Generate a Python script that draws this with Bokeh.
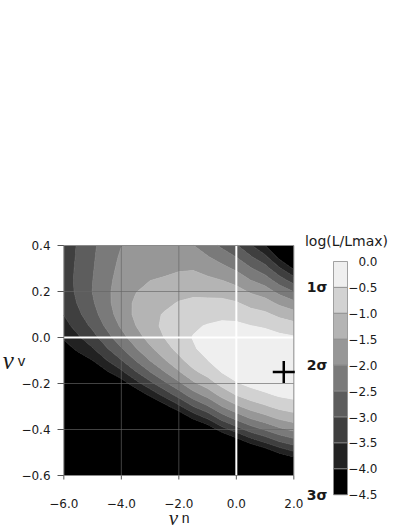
import numpy as np
from bokeh.plotting import figure
from bokeh.models import Range1d
from bokeh.embed import file_html
from bokeh.resources import INLINE
from bokeh.core.properties import value

# ---- data: log(L/Lmax) on a grid ----
nu_n = [-6.0, -5.5, -5.0, -4.5, -4.0, -3.5, -3.0, -2.5, -2.0, -1.5, -1.0, -0.5, 0.0, 0.5, 1.0, 1.5, 2.0]
nu_v = [0.40, 0.35, 0.30, 0.25, 0.20, 0.15, 0.10, 0.05, 0.00, -0.05, -0.10,
        -0.15, -0.20, -0.25, -0.30, -0.35, -0.40, -0.45, -0.50, -0.55, -0.60]
log_l = [
    [-3.30, -2.95, -2.60, -2.25, -2.01, -1.98, -1.97, -1.98, -1.98, -1.99, -2.25, -2.60, -2.95, -3.45, -3.99, -4.90, -5.00],
    [-3.28, -2.93, -2.57, -2.21, -1.94, -1.86, -1.82, -1.80, -1.77, -1.77, -1.97, -2.22, -2.51, -2.95, -3.38, -4.15, -4.96],
    [-3.26, -2.90, -2.54, -2.17, -1.88, -1.74, -1.66, -1.62, -1.56, -1.54, -1.68, -1.86, -2.09, -2.46, -2.80, -3.43, -4.07],
    [-3.25, -2.88, -2.51, -2.13, -1.81, -1.63, -1.51, -1.45, -1.35, -1.32, -1.41, -1.51, -1.69, -2.01, -2.26, -2.77, -3.26],
    [-3.28, -2.89, -2.49, -2.10, -1.75, -1.52, -1.37, -1.27, -1.16, -1.11, -1.14, -1.18, -1.31, -1.57, -1.76, -2.16, -2.52],
    [-3.36, -2.96, -2.56, -2.12, -1.72, -1.43, -1.23, -1.11, -0.97, -0.90, -0.89, -0.88, -0.96, -1.16, -1.30, -1.61, -1.86],
    [-3.49, -3.10, -2.69, -2.22, -1.77, -1.41, -1.14, -0.96, -0.81, -0.72, -0.66, -0.62, -0.66, -0.81, -0.90, -1.12, -1.29],
    [-3.69, -3.30, -2.90, -2.40, -1.93, -1.51, -1.17, -0.90, -0.69, -0.56, -0.47, -0.40, -0.40, -0.49, -0.56, -0.71, -0.82],
    [-3.94, -3.57, -3.19, -2.68, -2.19, -1.72, -1.32, -0.99, -0.70, -0.48, -0.34, -0.25, -0.21, -0.25, -0.29, -0.38, -0.45],
    [-4.24, -3.90, -3.55, -3.05, -2.56, -2.05, -1.60, -1.21, -0.85, -0.55, -0.36, -0.19, -0.10, -0.09, -0.11, -0.15, -0.18],
    [-4.60, -4.30, -4.01, -3.51, -3.03, -2.49, -1.99, -1.55, -1.14, -0.76, -0.51, -0.26, -0.10, -0.04, -0.02, -0.02, -0.03],
    [-5.00, -4.76, -4.52, -4.06, -3.61, -3.04, -2.51, -2.02, -1.55, -1.11, -0.81, -0.48, -0.25, -0.13, -0.07, -0.02, -0.01],
    [-5.00, -5.00, -5.00, -4.70, -4.29, -3.70, -3.15, -2.62, -2.11, -1.60, -1.25, -0.84, -0.55, -0.37, -0.25, -0.16, -0.11],
    [-5.00, -5.00, -5.00, -5.00, -5.00, -4.48, -3.90, -3.35, -2.80, -2.23, -1.84, -1.35, -0.99, -0.75, -0.59, -0.44, -0.36],
    [-5.00, -5.00, -5.00, -5.00, -5.00, -5.00, -4.78, -4.20, -3.62, -3.01, -2.56, -2.01, -1.60, -1.28, -1.07, -0.86, -0.74],
    [-5.00, -5.00, -5.00, -5.00, -5.00, -5.00, -5.00, -5.00, -4.58, -3.91, -3.43, -2.80, -2.35, -1.96, -1.69, -1.42, -1.25],
    [-5.00, -5.00, -5.00, -5.00, -5.00, -5.00, -5.00, -5.00, -5.00, -5.00, -4.45, -3.74, -3.25, -2.78, -2.46, -2.12, -1.90],
    [-5.00, -5.00, -5.00, -5.00, -5.00, -5.00, -5.00, -5.00, -5.00, -5.00, -5.00, -4.83, -4.30, -3.76, -3.37, -2.96, -2.68],
    [-5.00, -5.00, -5.00, -5.00, -5.00, -5.00, -5.00, -5.00, -5.00, -5.00, -5.00, -5.00, -5.00, -4.88, -4.43, -3.94, -3.60],
    [-5.00, -5.00, -5.00, -5.00, -5.00, -5.00, -5.00, -5.00, -5.00, -5.00, -5.00, -5.00, -5.00, -5.00, -5.00, -5.00, -4.65],
    [-5.00, -5.00, -5.00, -5.00, -5.00, -5.00, -5.00, -5.00, -5.00, -5.00, -5.00, -5.00, -5.00, -5.00, -5.00, -5.00, -5.00],
]

best_nu_n = [1.65]
best_nu_v = [-0.15]

levels = [-10.0, -4.0, -3.5, -3.0, -2.5, -2.0, -1.5, -1.0, -0.5, 0.001]
band_colors = ["#000000", "#222222", "#3f3f3f", "#5d5d5d", "#7a7a7a", "#979797", "#b4b4b4", "#d2d2d2", "#efefef"]

x_ticks = [-6.0, -4.0, -2.0, 0.0, 2.0]
x_tick_labels = ["\u22126.0", "\u22124.0", "\u22122.0", "0.0", "2.0"]
y_ticks = [-0.6, -0.4, -0.2, 0.0, 0.2, 0.4]
y_tick_labels = ["\u22120.6", "\u22120.4", "\u22120.2", "0.0", "0.2", "0.4"]
grey_x_lines = [-4.0, -2.0]
grey_y_lines = [0.2, -0.2, -0.4]
white_x_lines = [0.0]
white_y_lines = [0.0]
x_title = ("\u03bd", "n")
y_title = ("\u03bd", "v")

cb_levels = [0.0, -0.5, -1.0, -1.5, -2.0, -2.5, -3.0, -3.5, -4.0, -4.5]
cb_labels = ["0.0", "\u22120.5", "\u22121.0", "\u22121.5", "\u22122.0", "\u22122.5",
             "\u22123.0", "\u22123.5", "\u22124.0", "\u22124.5"]
cb_colors = ["#efefef", "#d2d2d2", "#b4b4b4", "#979797", "#7a7a7a", "#5d5d5d", "#3f3f3f", "#222222", "#000000"]
cb_title = "log(L/Lmax)"
sigma_levels = [-0.5, -2.0, -4.5]
sigma_labels = ["1\u03c3", "2\u03c3", "3\u03c3"]

FONT = "DejaVu Sans"
TXT = "#1a1a1a"
W, H = 409, 529

# ---- layout geometry (pixels) ----
FL, FR, FT, FB = 63.33, 293.33, 245.0, 475.0          # plot frame on the page
xs = (FR - FL) / (x_ticks[-1] - x_ticks[0])            # px per unit nu_n
ys = (FB - FT) / (y_ticks[-1] - y_ticks[0])            # px per unit nu_v
x0, x1 = x_ticks[0], x_ticks[-1]
y0, y1 = y_ticks[0], y_ticks[-1]
CB_TOP, CB_BOT = 261.0, 494.3                           # colour bar on the page
cs = (CB_BOT - CB_TOP) / (cb_levels[0] - cb_levels[-1])

p = figure(width=W, height=H, min_border=0, title=None,
           x_range=Range1d(x0 - FL / xs, x0 + (W - FL) / xs),
           y_range=Range1d(y1 - (H - FT) / ys, y1 + FT / ys),
           x_axis_location=None, y_axis_location=None,
           output_backend="svg", toolbar_location=None)
p.grid.visible = False
p.outline_line_color = None
p.background_fill_color = "white"
p.border_fill_color = "white"
p.extra_x_ranges = {"px": Range1d(0, W)}
p.extra_y_ranges = {"cb": Range1d(cb_levels[0] - (H - CB_TOP) / cs, cb_levels[0] + CB_TOP / cs)}

# filled contours
z = np.array(log_l)[::-1]
line_cols = ["#000000"] + band_colors[1:] + [band_colors[-1]]
p.contour(np.array(nu_n), np.array(nu_v)[::-1], z, levels,
          fill_color=band_colors, line_color=line_cols, line_width=1)

# grid lines
p.segment(x0=grey_x_lines, x1=grey_x_lines, y0=[y0] * len(grey_x_lines), y1=[y1] * len(grey_x_lines),
          line_color="#666666", line_alpha=0.65, line_width=1)
p.segment(x0=[x0] * len(grey_y_lines), x1=[x1] * len(grey_y_lines), y0=grey_y_lines, y1=grey_y_lines,
          line_color="#666666", line_alpha=0.65, line_width=1)
p.segment(x0=white_x_lines, x1=white_x_lines, y0=[y0], y1=[y1], line_color="white", line_width=2)
p.segment(x0=[x0], x1=[x1], y0=white_y_lines, y1=white_y_lines, line_color="white", line_width=2)

# frame border
p.quad(left=[x0], right=[x1], bottom=[y0], top=[y1], fill_color=None, line_color="#8a8a8a", line_width=1)

# best-fit cross
p.scatter(best_nu_n, best_nu_v, marker="cross", size=22, line_color="black", line_width=2.5)

# x axis ticks + labels
p.segment(x0=x_ticks, x1=x_ticks, y0=[y0] * len(x_ticks), y1=[y0 - 4 / ys] * len(x_ticks),
          line_color="#555555", line_width=1)
p.text(x=x_ticks, y=[y0 - 28 / ys] * len(x_ticks), text=x_tick_labels, text_align="center",
       text_baseline="middle", text_font=value(FONT), text_font_size="12px", text_color=TXT)
# y axis ticks + labels
p.segment(x0=[x0 - 6.3 / xs] * len(y_ticks), x1=[x0] * len(y_ticks), y0=y_ticks, y1=y_ticks,
          line_color="#555555", line_width=1)
p.text(x=[x0 - 13.3 / xs] * len(y_ticks), y=y_ticks, text=y_tick_labels, text_align="right",
       text_baseline="middle", text_font=value(FONT), text_font_size="12px", text_color=TXT)

# axis titles (nu with subscript)
p.text(x=[x0 - 61 / xs], y=[y1 - 115 / ys], text=[y_title[0]], text_font=value("Liberation Serif"),
       text_font_style="italic", text_font_size="25px", text_color=TXT, text_baseline="alphabetic")
p.text(x=[x0 - 46 / xs], y=[y1 - 115 / ys], text=[y_title[1]], text_font=value("Liberation Sans"),
       text_font_size="15px", text_color=TXT, text_baseline="alphabetic")
p.text(x=[x0 + 105 / xs], y=[y1 - 272 / ys], text=[x_title[0]], text_font=value("Liberation Serif"),
       text_font_style="italic", text_font_size="21px", text_color=TXT, text_baseline="alphabetic")
p.text(x=[x0 + 118 / xs], y=[y1 - 272 / ys], text=[x_title[1]], text_font=value("Liberation Sans"),
       text_font_size="14px", text_color=TXT, text_baseline="alphabetic")

# colour bar
p.quad(left=333, right=347, top=cb_levels[:-1], bottom=cb_levels[1:], fill_color=cb_colors,
       line_color="#8c8c8c", line_width=0.8, x_range_name="px", y_range_name="cb")
p.text(x=[377] * len(cb_levels), y=cb_levels, text=cb_labels, text_align="right",
       text_baseline="middle", text_font=value(FONT), text_font_size="12px", text_color=TXT,
       x_range_name="px", y_range_name="cb")
p.text(x=[327] * len(sigma_levels), y=sigma_levels, text=sigma_labels, text_align="right",
       text_baseline="middle", text_font=value(FONT), text_font_size="14px",
       text_font_style="bold", text_color=TXT, x_range_name="px", y_range_name="cb")
p.text(x=[346], y=[cb_levels[0] + 21 / cs], text=[cb_title], text_align="center",
       text_baseline="middle", text_font=value(FONT), text_font_size="14px", text_color=TXT,
       x_range_name="px", y_range_name="cb")

open("out.html", "w").write(file_html(p, INLINE))
